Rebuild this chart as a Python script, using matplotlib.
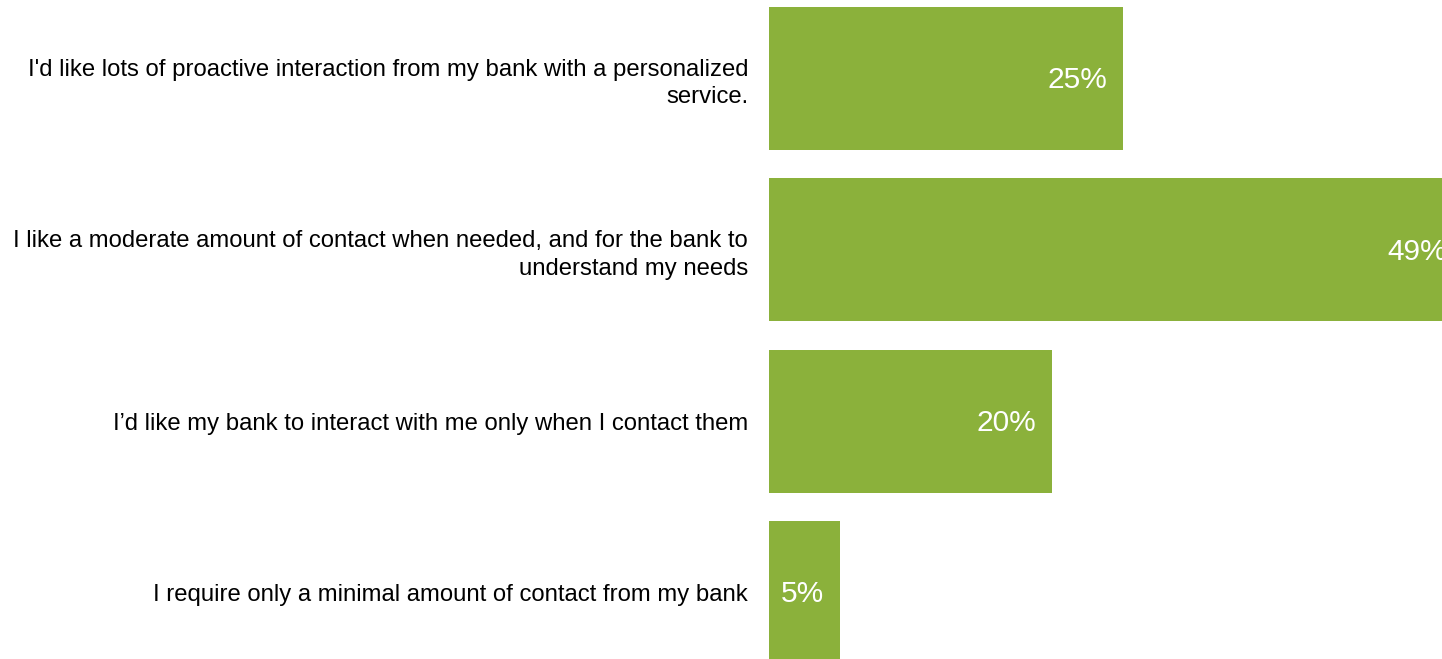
import matplotlib.pyplot as plt

plt.rcParams['font.family'] = ['Liberation Sans', 'DejaVu Sans']

answers = [
    "I'd like lots of proactive interaction from my bank with a personalized\nservice.",
    "I like a moderate amount of contact when needed, and for the bank to\nunderstand my needs",
    "I\u2019d like my bank to interact with me only when I contact them",
    "I require only a minimal amount of contact from my bank",
]
shares = [25, 49, 20, 5]
value_labels = ["25%", "49%", "20%", "5%"]

bar_color = '#8bb13b'

fig = plt.figure(figsize=(14.42, 6.59), dpi=100)
ax = fig.add_axes([769 / 1442, 0, 1 - 769 / 1442, 1])

pos = list(range(len(answers)))
ax.barh(pos, shares, height=0.835, color=bar_color)

# right edge of the figure cuts the widest bar
ax.set_xlim(0, 47.53)
ax.set_ylim(3.389, -0.458)

for p, v, lab in zip(pos, shares, value_labels):
    ax.annotate(lab, xy=(v, p), xytext=(-16, -2), textcoords='offset pixels',
                ha='right', va='center', color='white', fontsize=21.5,
                annotation_clip=False)

ax.set_yticks(pos)
ax.set_yticklabels(answers, fontsize=17.2, linespacing=1.32)
ax.tick_params(axis='y', length=0, pad=15)
ax.set_xticks([])
for s in ax.spines.values():
    s.set_visible(False)

fig.savefig('out.png', dpi=100)
